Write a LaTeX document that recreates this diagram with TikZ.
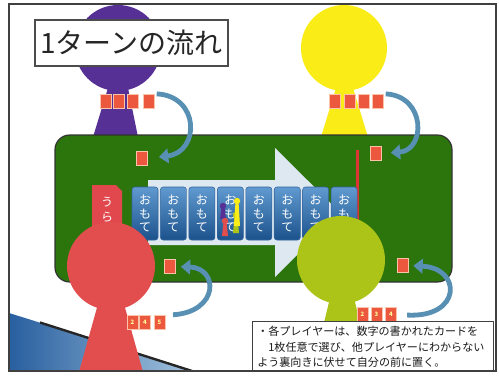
\documentclass[tikz,border=0pt]{standalone}
\usepackage{fontspec}
\newfontfamily\jp{Noto Sans CJK JP}
\usetikzlibrary{arrows.meta}

\definecolor{felt}{RGB}{44,116,12}
\definecolor{pawnpurple}{RGB}{86,48,148}
\definecolor{pawnyellow}{RGB}{250,236,22}
\definecolor{pawnred}{RGB}{226,78,78}
\definecolor{pawnlime}{RGB}{172,196,24}
\definecolor{tokenred}{RGB}{236,88,62}
\definecolor{tokenedge}{RGB}{250,196,170}
\definecolor{arrowblue}{RGB}{88,144,180}
\definecolor{lanewhite}{RGB}{222,232,240}
\definecolor{cardtop}{RGB}{96,154,208}
\definecolor{cardbot}{RGB}{28,82,140}
\definecolor{cardline}{RGB}{52,100,156}
\definecolor{backred}{RGB}{224,72,78}
\definecolor{markred}{RGB}{222,52,52}
\definecolor{screenblue}{RGB}{40,95,160}
\definecolor{screenlight}{RGB}{165,196,222}

% small game piece: x, head centre y, colour, foot y
\newcommand\minipawn[4]{%
  \fill[#3] (#1-1.6,#2+2) -- (#1+1.6,#2+2) -- (#1+3,#4) -- (#1-3,#4) -- cycle;
  \fill[#3] (#1,#2) circle[radius=2.4pt];}

\begin{document}
\begin{tikzpicture}[x=0.75pt,y=-0.75pt,
  token/.style={rectangle, fill=tokenred, draw=tokenedge, line width=0.4pt,
    minimum width=7.9pt, minimum height=10.5pt, inner sep=0pt,
    font=\jp\bfseries\fontsize{4.5}{5}\selectfont, text=yellow!40},
  facecard/.style={rectangle, rounded corners=2pt, top color=cardtop,
    bottom color=cardbot, draw=cardline, line width=0.4pt,
    minimum width=19.5pt, minimum height=39.75pt, inner sep=0pt,
    align=center, text=white, font=\jp\fontsize{9}{10.2}\selectfont},
  turnarrow/.style={draw=arrowblue, line width=3.6pt,
    -{Triangle[length=7pt,width=11pt]}},
]
\useasboundingbox (0,0) rectangle (499,375);
\fill[white] (0,0) rectangle (499,375);

\begin{scope}
\clip (9,4) rectangle (496,371);

% monitor edge in the lower left corner
\shade[left color=screenblue, right color=screenlight]
  (9,313) -- (195,371) -- (9,371) -- cycle;
\draw[line width=1.8pt, black!85] (40,322.5) -- (192,371);

% purple and yellow players
\fill[pawnpurple] (108,88) -- (128,88) -- (138,137) -- (93,137) -- cycle;
\fill[pawnpurple] (118,48) circle[radius=32.25pt];
\fill[pawnyellow] (336,88) -- (353,88) -- (368,137) -- (321,137) -- cycle;
\fill[pawnyellow] (344,48) circle[radius=32.25pt];

% title
\node[draw=black!70, fill=white, line width=0.8pt, minimum width=144.75pt,
  minimum height=34.5pt, inner sep=0pt,
  font=\jp\fontsize{21}{24}\selectfont, text=black!85]
  (title) at (131.5,43) {1ターンの流れ};

% table
\draw[fill=felt, draw=black!80, line width=0.9pt, rounded corners=11pt]
  (55,135) rectangle (452,282);

% direction of play
\fill[lanewhite] (148,180) -- (275,180) -- (275,148) -- (340,212.5)
  -- (275,277) -- (275,245) -- (148,245) -- cycle;
\fill[markred] (355.5,150) rectangle (358.5,224);

% face-down card
\fill[backred] (92,185) -- (116,185) -- (122,191) -- (122,252) -- (92,252) -- cycle;
\node[align=center, text=white, inner sep=0pt,
  font=\jp\fontsize{9}{11}\selectfont] (ura) at (107,210) {う\\ら};

% face-up cards
\foreach \i in {0,...,7}
  \node[facecard] (face\i) at ({145+28.45*\i},213.5) {お\\も\\て};

% pieces standing on the fourth card
\minipawn{236}{215}{pawnlime}{233}
\minipawn{223}{206}{pawnpurple}{219}
\minipawn{225}{221}{pawnred}{236}
\minipawn{237}{201}{pawnyellow}{226}

% red and lime players
\fill[pawnred] (98,304) -- (124,304) -- (143,372) -- (79,372) -- cycle;
\fill[pawnred] (111,266) circle[radius=33pt];
\fill[pawnlime] (330,298) -- (354,298) -- (372,372) -- (312,372) -- cycle;
\fill[pawnlime] (341,260) circle[radius=33pt];

% hands of cards
\node[token] (pc1) at (105.5,101) {};
\node[token] (pc2) at (119,101) {};
\node[token] (pc3) at (133,101) {};
\node[token] (pc4) at (148.5,101) {};
\node[token] (yc1) at (335,101) {};
\node[token] (yc2) at (350,101) {};
\node[token] (yc3) at (363.5,101) {};
\node[token] (yc4) at (377.5,101) {};
\node[token] (rc1) at (132.5,322.5) {2};
\node[token] (rc2) at (145,322.5) {4};
\node[token] (rc3) at (159.5,322.5) {5};
\node[token] (gc1) at (362.5,314.5) {2};
\node[token] (gc2) at (376.5,314.5) {3};
\node[token] (gc3) at (391,314.5) {4};

% chosen cards placed on the table
\node[token] (pt) at (141.5,158.5) {};
\node[token] (yt) at (376,153.5) {};
\node[token] (rt) at (170,266.5) {};
\node[token] (gt) at (402.5,265.5) {};

% moves from hand to table
\draw[turnarrow, shorten <=2pt, shorten >=9pt]
  (pc4.north east) .. controls (200,96) and (200,152) .. (pt.east);
\draw[turnarrow, shorten <=2pt, shorten >=7pt]
  (yc4.north east) .. controls (426,96) and (426,150) .. (yt.east);
\draw[turnarrow, shorten <=6pt, shorten >=4pt]
  (rc3.north east) .. controls (219,312) and (219,268) .. (rt.east);
\draw[turnarrow, shorten <=8pt, shorten >=4pt]
  (gc3.east) .. controls (462,318) and (462,268) .. (gt.east);

% rule note
\node[draw=black!75, fill=white, line width=0.8pt, anchor=north west,
  minimum width=180.75pt, minimum height=37.5pt, inner sep=0pt]
  (note) at (252,321) {};
\node[anchor=north west, align=left, inner sep=0pt, text=black!90,
  font=\jp\fontsize{8.3}{11.6}\selectfont] (notetext) at (257,326)
  {・各プレイヤーは、数字の書かれたカードを\\
   　1枚任意で選び、他プレイヤーにわからない\\
   よう裏向きに伏せて自分の前に置く。};
\end{scope}

% outer frame
\draw[black!75, line width=0.9pt] (9,4) rectangle (496,371);
\end{tikzpicture}
\end{document}
